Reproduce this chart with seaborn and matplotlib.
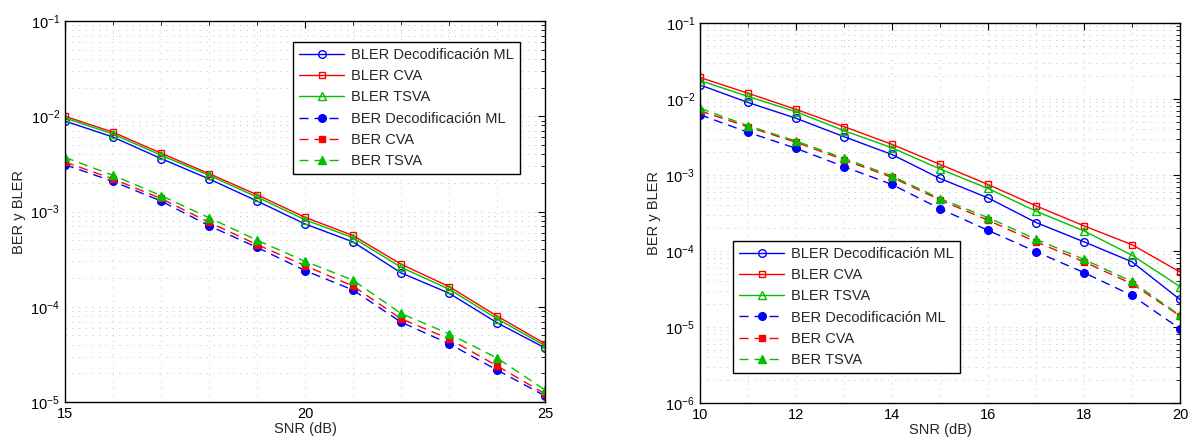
import numpy as np
import pandas as pd
import matplotlib
matplotlib.use('Agg')
import matplotlib.pyplot as plt
import seaborn as sns
from matplotlib.ticker import MultipleLocator, LogLocator, NullFormatter

# Left panel: SNR 15..25 dB
snr_left = [15, 16, 17, 18, 19, 20, 21, 22, 23, 24, 25]
bler_ml_left = [8.9e-3, 6.05e-3, 3.6e-3, 2.2e-3, 1.29e-3, 7.4e-4, 4.8e-4, 2.27e-4, 1.39e-4, 6.8e-5, 3.7e-5]
bler_cva_left = [1.0e-2, 6.8e-3, 4.1e-3, 2.5e-3, 1.5e-3, 8.7e-4, 5.6e-4, 2.8e-4, 1.63e-4, 8.0e-5, 4.1e-5]
bler_tsva_left = [9.6e-3, 6.5e-3, 3.9e-3, 2.4e-3, 1.42e-3, 8.2e-4, 5.3e-4, 2.6e-4, 1.53e-4, 7.5e-5, 3.9e-5]
ber_ml_left = [3.1e-3, 2.07e-3, 1.29e-3, 7.1e-4, 4.2e-4, 2.4e-4, 1.5e-4, 6.9e-5, 4.1e-5, 2.17e-5, 1.16e-5]
ber_cva_left = [3.3e-3, 2.2e-3, 1.37e-3, 7.7e-4, 4.5e-4, 2.7e-4, 1.65e-4, 7.5e-5, 4.6e-5, 2.4e-5, 1.22e-5]
ber_tsva_left = [3.7e-3, 2.4e-3, 1.47e-3, 8.6e-4, 5.0e-4, 3.0e-4, 1.9e-4, 8.5e-5, 5.2e-5, 2.9e-5, 1.34e-5]

# Right panel: SNR 10..20 dB
snr_right = [10, 11, 12, 13, 14, 15, 16, 17, 18, 19, 20]
bler_ml_right = [1.53e-2, 9.0e-3, 5.58e-3, 3.19e-3, 1.86e-3, 9.0e-4, 5.0e-4, 2.37e-4, 1.32e-4, 7.2e-5, 2.3e-5]
bler_cva_right = [1.92e-2, 1.19e-2, 7.3e-3, 4.33e-3, 2.53e-3, 1.38e-3, 7.5e-4, 3.93e-4, 2.14e-4, 1.21e-4, 5.3e-5]
bler_tsva_right = [1.75e-2, 1.08e-2, 6.8e-3, 3.83e-3, 2.28e-3, 1.2e-3, 6.65e-4, 3.34e-4, 1.84e-4, 8.8e-5, 3.4e-5]
ber_ml_right = [6.2e-3, 3.65e-3, 2.24e-3, 1.29e-3, 7.5e-4, 3.6e-4, 1.87e-4, 9.8e-5, 5.2e-5, 2.6e-5, 9.5e-6]
ber_cva_right = [7.0e-3, 4.3e-3, 2.7e-3, 1.58e-3, 9.3e-4, 4.7e-4, 2.54e-4, 1.32e-4, 7.2e-5, 3.7e-5, 1.4e-5]
ber_tsva_right = [7.55e-3, 4.45e-3, 2.8e-3, 1.66e-3, 9.7e-4, 4.9e-4, 2.75e-4, 1.43e-4, 7.75e-5, 3.97e-5, 1.42e-5]

labels = ['BLER Decodificación ML', 'BLER CVA', 'BLER TSVA',
          'BER Decodificación ML', 'BER CVA', 'BER TSVA']

sns.set_style('white')
plt.rcParams['font.family'] = ['Liberation Sans', 'DejaVu Sans']

# (colour, marker, filled, linestyle)
dash = (0, (6.5, 4.3))
styles = [('#0000ff', 'o', False, '-'), ('#ff0000', 's', False, '-'), ('#00c000', '^', False, '-'),
          ('#0000ff', 'o', True, dash), ('#ff0000', 's', True, dash), ('#00c000', '^', True, dash)]

fig = plt.figure(figsize=(11.92, 4.41), dpi=100)
ax1 = fig.add_axes([0.0545, 0.0884, 0.4027, 0.864])
ax2 = fig.add_axes([0.5872, 0.0862, 0.4027, 0.8617])


def draw(ax, x, series, xlim, ylim, xmajor, legend_kw):
    for y, lab, (c, m, filled, ls) in zip(series, labels, styles):
        sns.lineplot(x=x, y=y, ax=ax, color=c, marker=m, linestyle=ls, linewidth=1.0,
                     markersize=5.5 if m != 's' else 4.5,
                     markerfacecolor=c if filled else 'none', markeredgecolor=c,
                     markeredgewidth=1.0, label=lab)
    ax.set_yscale('log')
    ax.set_xlim(*xlim)
    ax.set_ylim(*ylim)
    ax.xaxis.set_major_locator(MultipleLocator(xmajor))
    ax.xaxis.set_minor_locator(MultipleLocator(1))
    ax.yaxis.set_major_locator(LogLocator(base=10))
    ax.yaxis.set_minor_locator(LogLocator(base=10, subs=np.arange(2, 10)))
    ax.yaxis.set_minor_formatter(NullFormatter())
    ax.grid(True, which='both', linestyle=(0, (1.4, 5.5)), color='#d0d0d0', linewidth=0.7)
    ax.tick_params(which='both', direction='in', top=True, right=True, labelsize=10.5, colors='black')
    ax.tick_params(which='major', length=5)
    ax.tick_params(which='minor', length=3)
    for s in ax.spines.values():
        s.set_color('black')
        s.set_linewidth(1.0)
    ax.set_xlabel('SNR (dB)', fontsize=10.5, labelpad=1)
    ax.set_ylabel('BER y BLER', fontsize=10.5, labelpad=3)
    leg = ax.legend(fontsize=10.5, handlelength=3.1, handletextpad=0.5, labelspacing=0.5,
                    fancybox=False, framealpha=1, edgecolor='black', borderaxespad=0, **legend_kw)
    leg.get_frame().set_linewidth(1.0)


draw(ax1, snr_left, [bler_ml_left, bler_cva_left, bler_tsva_left, ber_ml_left, ber_cva_left, ber_tsva_left],
     (15, 25), (1e-5, 1e-1), 5, dict(loc='upper right', bbox_to_anchor=(0.948, 0.945)))
draw(ax2, snr_right, [bler_ml_right, bler_cva_right, bler_tsva_right, ber_ml_right, ber_cva_right, ber_tsva_right],
     (10, 20), (1e-6, 1e-1), 2, dict(loc='lower left', bbox_to_anchor=(0.069, 0.079)))

fig.savefig('out.png', dpi=100)
